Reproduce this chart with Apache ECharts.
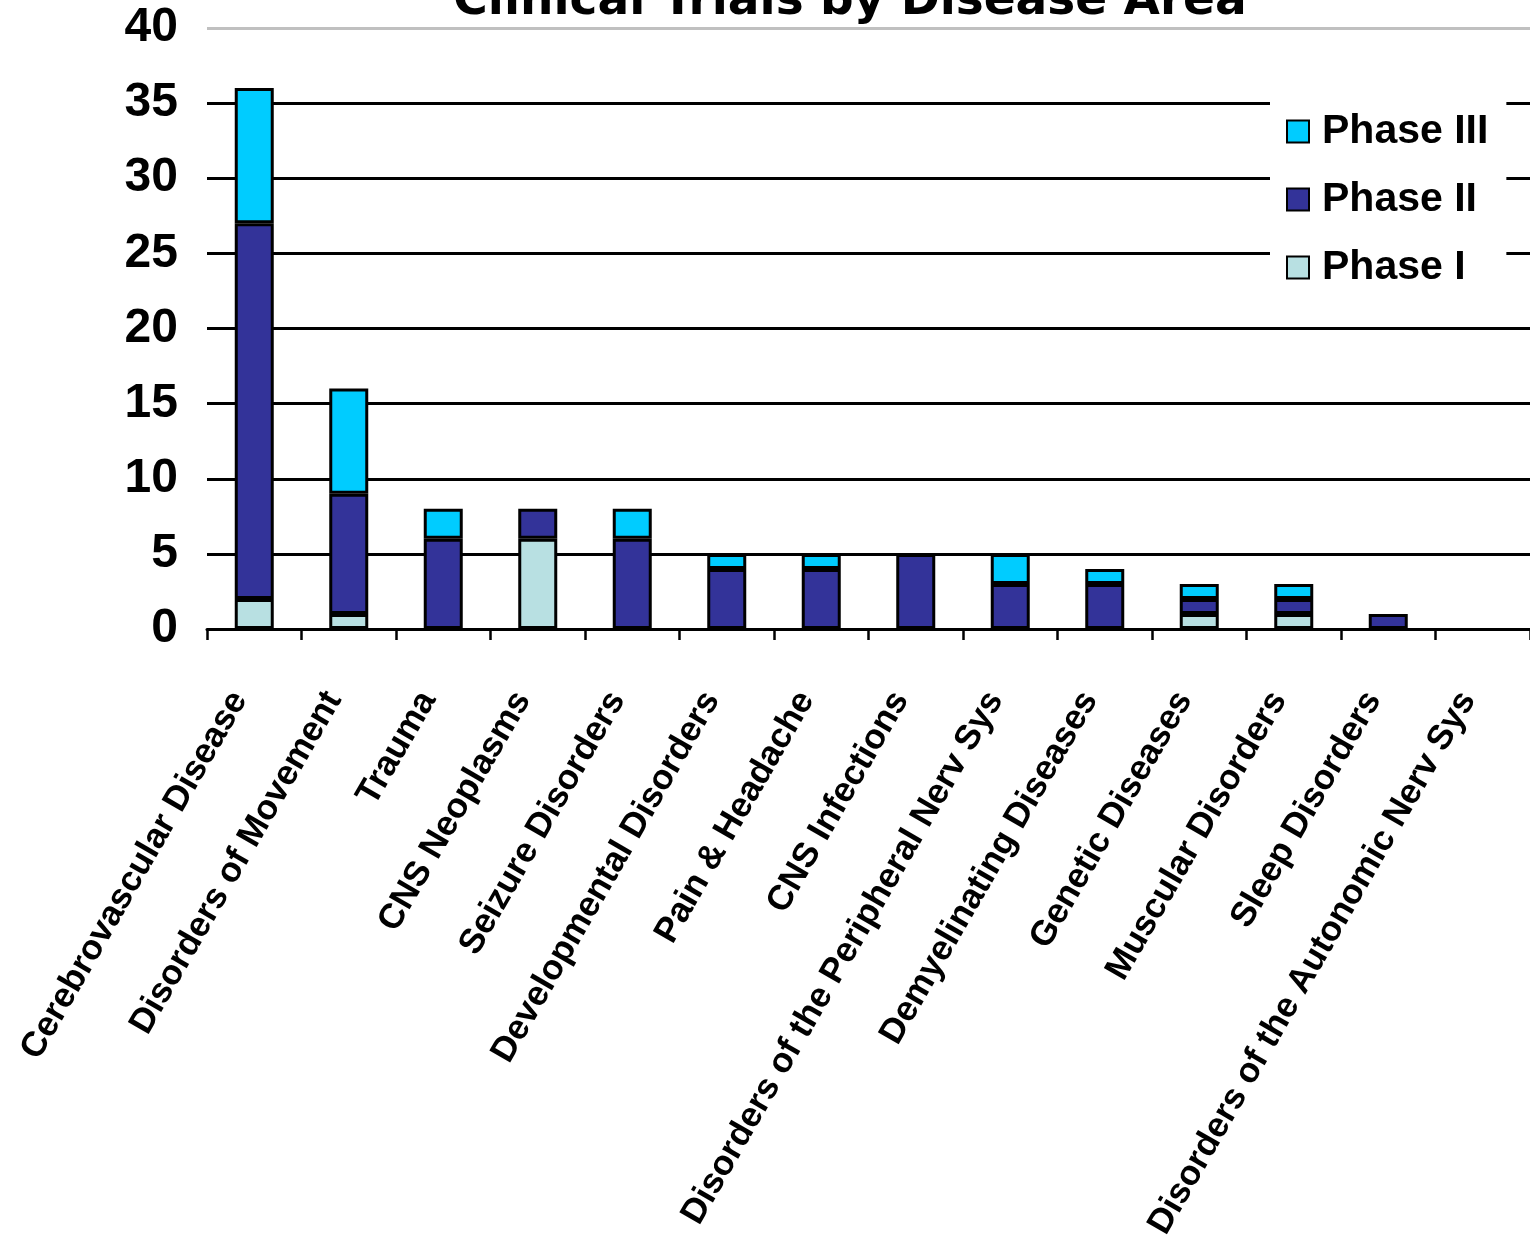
<!DOCTYPE html>
<html>
<head>
<meta charset="utf-8">
<script src="https://cdn.jsdelivr.net/npm/echarts@6/dist/echarts.min.js"></script>
<style>
html,body{margin:0;padding:0;background:#fff;}
#chart{width:1530px;height:1243px;}
</style>
</head>
<body>
<div id="chart"></div>
<script>
const title = 'Clinical Trials by Disease Area';
const categories = [
  'Cerebrovascular Disease',
  'Disorders of Movement',
  'Trauma',
  'CNS Neoplasms',
  'Seizure Disorders',
  'Developmental Disorders',
  'Pain & Headache',
  'CNS Infections',
  'Disorders of the Peripheral Nerv Sys',
  'Demyelinating Diseases',
  'Genetic Diseases',
  'Muscular Disorders',
  'Sleep Disorders',
  'Disorders of the Autonomic Nerv Sys'
];
const phase1 = [2, 1, 0, 6, 0, 0, 0, 0, 0, 0, 1, 1, 0, 0];
const phase2 = [25, 8, 6, 2, 6, 4, 4, 5, 3, 3, 1, 1, 1, 0];
const phase3 = [9, 7, 2, 0, 2, 1, 1, 0, 2, 1, 1, 1, 0, 0];
const yTicks = [0, 5, 10, 15, 20, 25, 30, 35, 40];

const chart = echarts.init(document.getElementById('chart'));
const barStyle = (c) => ({ color: c, borderColor: '#000', borderWidth: 3 });
const gridColors = yTicks.map((t, i) => i === yTicks.length - 1 ? '#c0c0c0' : '#000');
const nonZero = (arr) => arr.map(v => (v === 0 ? '-' : v));

chart.setOption({
  animation: false,
  backgroundColor: '#fff',
  title: {
    text: title,
    left: 845,
    textAlign: 'center',
    top: -27,
    textStyle: { fontFamily: 'DejaVu Sans', fontWeight: 'bold', fontSize: 47, color: '#000' }
  },
  legend: {
    orient: 'vertical',
    left: 1270,
    top: 94,
    padding: [17, 18, 17, 16],
    backgroundColor: '#fff',
    itemWidth: 22,
    itemHeight: 22,
    itemGap: 27,
    icon: 'rect',
    data: ['Phase III', 'Phase II', 'Phase I'],
    textStyle: { fontFamily: 'Liberation Sans', fontWeight: 'bold', fontSize: 41, color: '#000', padding: [0, 0, 0, 8] }
  },
  grid: { left: 207, right: 0, top: 28, bottom: 614, containLabel: false, outerBoundsMode: 'none' },
  xAxis: {
    type: 'category',
    data: categories,
    boundaryGap: true,
    axisLine: { show: true, lineStyle: { color: '#000', width: 3 } },
    axisTick: { show: true, interval: 0, length: 11, alignWithLabel: false, lineStyle: { color: '#000', width: 2.5 } },
    axisLabel: {
      interval: 0, rotate: 60, margin: 74, verticalAlign: 'bottom',
      fontFamily: 'Liberation Sans', fontWeight: 'bold', fontSize: 35, color: '#000'
    }
  },
  yAxis: {
    type: 'value',
    min: yTicks[0],
    max: yTicks[yTicks.length - 1],
    interval: 5,
    axisLine: { show: false },
    axisTick: { show: false },
    axisLabel: { margin: 29, fontFamily: 'Liberation Sans', fontWeight: 'bold', fontSize: 48, color: '#000' },
    splitLine: { show: true, lineStyle: { color: gridColors, width: 3 } }
  },
  series: [
    { name: 'Phase I', type: 'bar', stack: 'all', barWidth: 39, data: nonZero(phase1), itemStyle: barStyle('#B8E0E2') },
    { name: 'Phase II', type: 'bar', stack: 'all', barWidth: 39, data: nonZero(phase2), itemStyle: barStyle('#333399') },
    { name: 'Phase III', type: 'bar', stack: 'all', barWidth: 39, data: nonZero(phase3), itemStyle: barStyle('#00CCFF') }
  ]
});
</script>
</body>
</html>
